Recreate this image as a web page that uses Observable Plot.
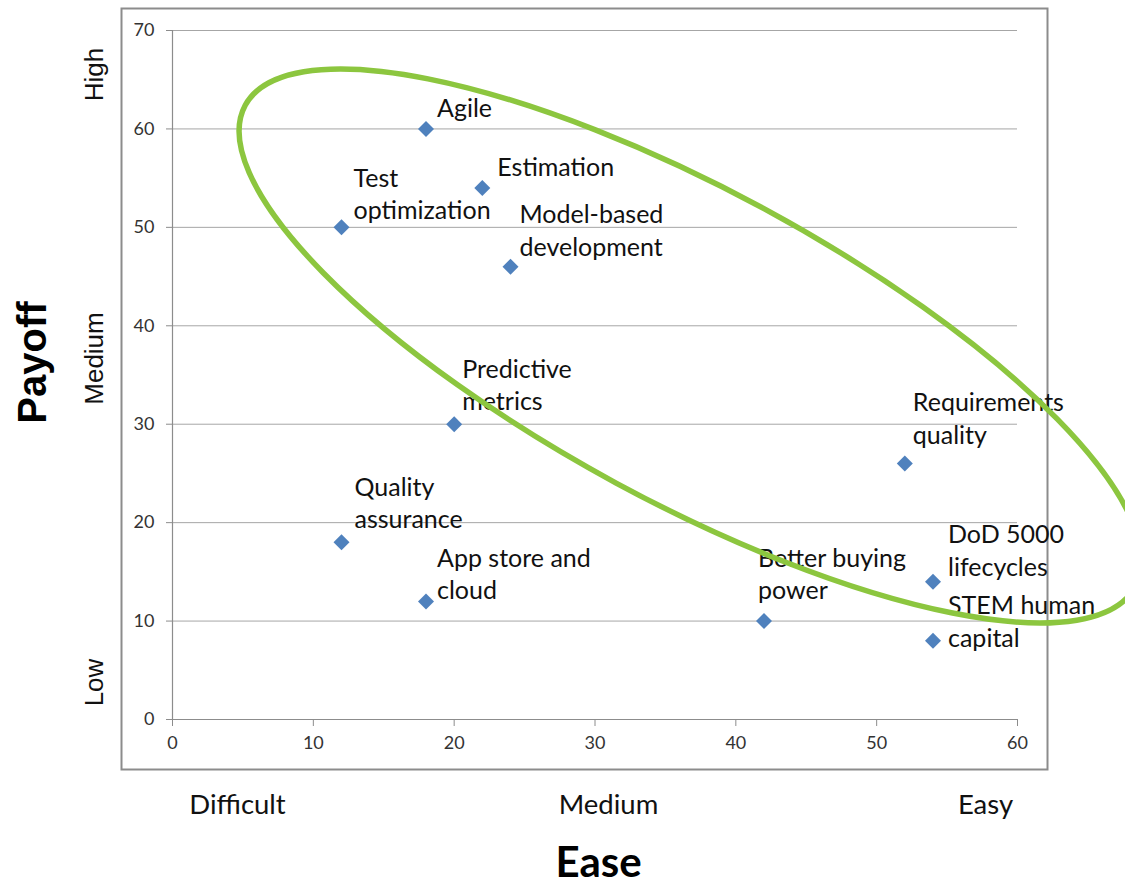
<!DOCTYPE html>
<html>
<head>
<meta charset="utf-8">
<script src="https://cdn.jsdelivr.net/npm/d3@7"></script>
<script src="https://cdn.jsdelivr.net/npm/@observablehq/plot@0.6"></script>
<style>
  html, body { margin: 0; padding: 0; background: #fff; }
  #chart svg { display: block; }
</style>
</head>
<body>
<div id="chart"></div>
<script>
// ---- data ----
const names = [
  "Agile",
  "Estimation",
  "Test\noptimization",
  "Model-based\ndevelopment",
  "Predictive\nmetrics",
  "Requirements\nquality",
  "Quality\nassurance",
  "App store and\ncloud",
  "Better buying\npower",
  "DoD 5000\nlifecycles",
  "STEM human\ncapital"
];
const ease   = [18, 22, 12, 24, 20, 52, 12, 18, 42, 54, 54];
const payoff = [60, 54, 50, 46, 30, 26, 18, 12, 10, 14, 8];

const xTicks = [0, 10, 20, 30, 40, 50, 60];
const yTicks = [0, 10, 20, 30, 40, 50, 60, 70];
const easeLevels = ["Difficult", "Medium", "Easy"];
const payoffLevels = ["Low", "Medium", "High"];
const xTitle = "Ease";
const yTitle = "Payoff";

// highlight ellipse (data units): centre, end of major axis, end of minor axis
const ellipseCenter = [36.8, 37.9];
const ellipseMajor  = [68.4, 13.45];
const ellipseMinor  = [31.5, 24.0];

const data = names.map((n, i) => ({name: n, ease: ease[i], payoff: payoff[i]}));

// ---- layout of the labels (pixel offsets from the point) ----
const labelOffsets = {
  "Agile": [11, -12],
  "Estimation": [15, -12],
  "Test\noptimization": [12, -8],
  "Model-based\ndevelopment": [9, -11],
  "Predictive\nmetrics": [8, -14],
  "Requirements\nquality": [8, -20],
  "Quality\nassurance": [13, -14],
  "App store and\ncloud": [11, -2],
  "Better buying\npower": [-6, -22],
  "DoD 5000\nlifecycles": [15, -6],
  "STEM human\ncapital": [15, 6]
};

const labelFont = "Lato, 'Open Sans', sans-serif";
const arial = "'Liberation Sans', Arial, sans-serif";

const labelMarks = data.map(d => Plot.text([d], {
  x: "ease", y: "payoff", text: "name",
  dx: labelOffsets[d.name][0], dy: labelOffsets[d.name][1],
  textAnchor: "start", lineAnchor: "bottom", lineHeight: 1.3,
  fontSize: 25, fontFamily: labelFont, fill: "#111"
}));

// bottom category labels (x positions in frame pixels)
const easePos = [65, 436, 813];
const easeMarks = easeLevels.map((t, i) => Plot.text([t], {
  frameAnchor: "bottom-left", dx: easePos[i], dy: 94,
  textAnchor: "middle", lineAnchor: "bottom",
  fontSize: 27.5, fontFamily: labelFont, fill: "#111"
}));
// left category labels (y positions in frame pixels)
const payoffPos = [652, 328, 44];
const payoffMarks = payoffLevels.map((t, i) => Plot.text([t], {
  frameAnchor: "top-left", dx: -70, dy: payoffPos[i], rotate: -90,
  textAnchor: "middle", lineAnchor: "bottom",
  fontSize: 26, fontFamily: arial, fill: "#111"
}));

const chart = Plot.plot({
  width: 1125,
  height: 884,
  marginLeft: 172,
  marginRight: 108,
  marginTop: 30,
  marginBottom: 165,
  style: {fontFamily: labelFont, fontSize: "17px", background: "#fff", overflow: "hidden"},
  x: {domain: [0, 60]},
  y: {domain: [0, 70]},
  marks: [
    Plot.frame({insetLeft: -51, insetRight: -30, insetTop: -22, insetBottom: -50, stroke: "#8c8c8c", strokeWidth: 2}),
    Plot.gridY(yTicks, {stroke: "#a6a6a6", strokeOpacity: 1, strokeWidth: 1}),
    Plot.ruleX([0], {stroke: "#8c8c8c", strokeWidth: 1.2}),
    Plot.ruleY([0], {stroke: "#8c8c8c", strokeWidth: 1.2}),
    Plot.axisY(yTicks, {tickSize: 6, tickPadding: 12, stroke: "#8c8c8c", fill: "#333", label: null}),
    Plot.axisX(xTicks, {tickSize: 7, tickPadding: 10, stroke: "#8c8c8c", fill: "#333", label: null}),
    Plot.dot(data, {x: "ease", y: "payoff", symbol: "diamond2", r: 7.2, fill: "#4f81bd", stroke: "none"}),
    ...labelMarks,
    ...easeMarks,
    ...payoffMarks,
    Plot.text([xTitle], {frameAnchor: "bottom-left", dx: 426, dy: 157, textAnchor: "middle", lineAnchor: "bottom",
      fontSize: 42, fontWeight: "bold", fontFamily: labelFont, fill: "#000"}),
    Plot.text([yTitle], {frameAnchor: "top-left", dx: -127, dy: 332, rotate: -90, textAnchor: "middle", lineAnchor: "bottom",
      fontSize: 40, fontWeight: "bold", fontFamily: arial, fill: "#000"})
  ]
});

// tick label size
d3.select(chart).selectAll('g[aria-label$="tick label"]').attr("font-size", 18)
  .selectAll("text").attr("font-size", null);

// highlight ellipse drawn through the chart's own scales
const sx = chart.scale("x"), sy = chart.scale("y");
const cx = sx.apply(ellipseCenter[0]), cy = sy.apply(ellipseCenter[1]);
const mx = sx.apply(ellipseMajor[0]) - cx, my = sy.apply(ellipseMajor[1]) - cy;
const nx = sx.apply(ellipseMinor[0]) - cx, ny = sy.apply(ellipseMinor[1]) - cy;
const rx = Math.hypot(mx, my), ry = Math.hypot(nx, ny);
const ang = Math.atan2(my, mx) * 180 / Math.PI;
d3.select(chart).append("ellipse")
  .attr("cx", cx).attr("cy", cy).attr("rx", rx).attr("ry", ry)
  .attr("transform", `rotate(${ang} ${cx} ${cy})`)
  .attr("fill", "none").attr("stroke", "#8cc63f").attr("stroke-width", 5.5);

document.getElementById("chart").appendChild(chart);
</script>
</body>
</html>
